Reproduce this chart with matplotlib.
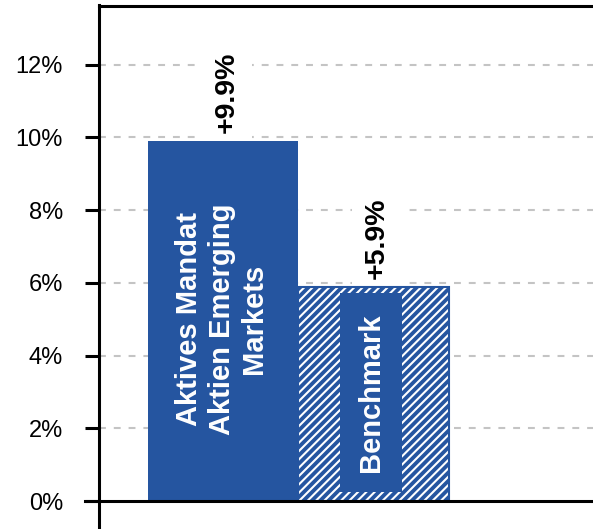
import matplotlib
matplotlib.use("Agg")
import matplotlib.pyplot as plt
from matplotlib.patches import Rectangle

# data
categories = ["Aktives Mandat\nAktien Emerging\nMarkets", "Benchmark"]
returns = [9.9, 5.9]
value_labels = ["+9.9%", "+5.9%"]
yticks = [0, 2, 4, 6, 8, 10, 12]
ytick_labels = ["0%", "2%", "4%", "6%", "8%", "10%", "12%"]

BLUE = "#2555A0"
plt.rcParams["font.family"] = ["Liberation Sans", "DejaVu Sans"]
plt.rcParams["hatch.linewidth"] = 1.5

fig = plt.figure(figsize=(5.93, 5.29), dpi=100)
ax = fig.add_axes([99 / 593, 0, 494 / 593, 523.5 / 529])
ax.set_ylim(-0.77, 13.63)
ax.set_xlim(-0.8256, 2.457)

# grid
for y in yticks[1:]:
    ax.axhline(y, color="#c4c4c4", lw=1.5, dashes=(3.3, 3.8), zorder=0.5)

# bars
ax.bar(0, returns[0], width=1.0, color=BLUE, lw=0, zorder=2)
ax.bar(1, returns[1], width=1.0, color=BLUE, edgecolor="white", hatch="////",
       lw=0, zorder=2)
ax.bar(1, returns[1], width=1.0, fill=False, edgecolor=BLUE, lw=1.5, zorder=2.1)
# solid inner box for benchmark label
ax.add_patch(Rectangle((0.776, 0.25), 0.412, returns[1] - 0.43,
                       facecolor=BLUE, edgecolor="none", zorder=2.2))

# labels inside bars
ax.text(-0.01, 5.0, categories[0], rotation=90, ha="center", va="center",
        multialignment="center", color="white", fontsize=21,
        fontweight="bold", linespacing=1.2, zorder=3)
ax.text(0.985, 2.97, categories[1], rotation=90, ha="center", va="center",
        color="white", fontsize=21, fontweight="bold", zorder=3)

# value labels above bars
for i, (v, lab) in enumerate(zip(returns, value_labels)):
    ax.annotate(lab, xy=(i, v), xytext=(2.5, 5.5), textcoords="offset points",
                rotation=90, ha="center", va="bottom", fontsize=20.5,
                fontweight="bold", color="black", zorder=1.5,
                bbox=dict(facecolor="white", edgecolor="none", pad=9))

# zero line, extends left of spine
ax.axhline(0, xmin=-14 / 494, xmax=1, color="black", lw=2.2, clip_on=False,
           zorder=4)

for s in ["right", "bottom"]:
    ax.spines[s].set_visible(False)
ax.spines["left"].set_linewidth(2.2)
ax.spines["top"].set_linewidth(2.2)
ax.spines["left"].set_zorder(5)

ax.set_xticks([])
ax.set_yticks(yticks)
ax.set_yticklabels(ytick_labels, fontsize=17)
ax.tick_params(axis="y", length=10, width=2.2, pad=16)

fig.savefig("out.png", dpi=100)
